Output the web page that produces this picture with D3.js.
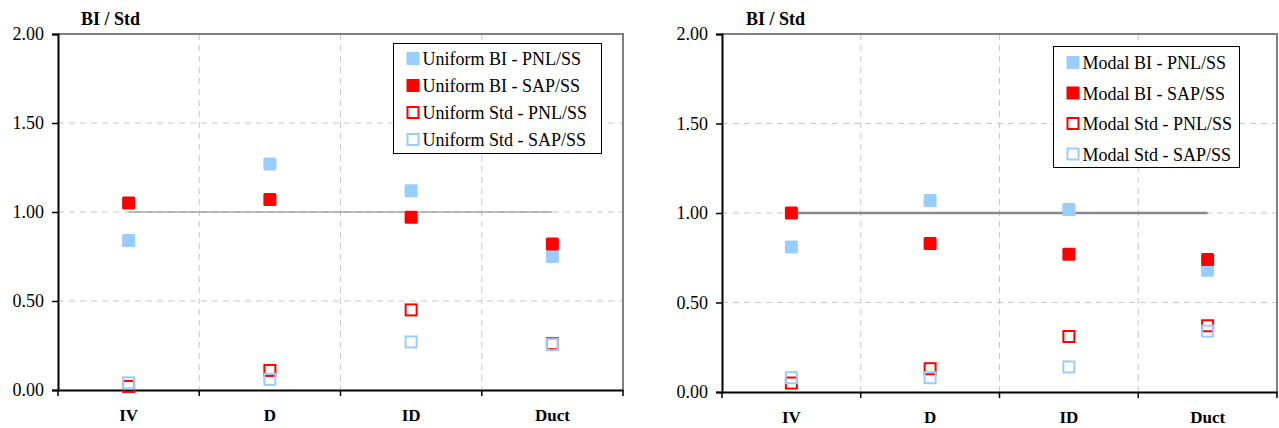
<!DOCTYPE html>
<html><head><meta charset="utf-8">
<script src="https://cdn.jsdelivr.net/npm/d3@7"></script>
<style>body{margin:0;background:#fff}svg{display:block}
svg text{font-family:"Liberation Serif","Times New Roman",Times,Tinos,"DejaVu Serif","Noto Serif",serif !important;}</style>
</head><body>
<svg id="c" width="1279" height="428"></svg>
<script>
const categories = ["IV", "D", "ID", "Duct"];
const yTicks = [0, 0.5, 1, 1.5, 2];
const uniformBiPnl  = [0.84, 1.27, 1.12, 0.75];
const uniformBiSap  = [1.05, 1.07, 0.97, 0.82];
const uniformStdPnl = [0.02, 0.11, 0.45, 0.26];
const uniformStdSap = [0.04, 0.06, 0.27, 0.255];
const modalBiPnl  = [0.81, 1.07, 1.02, 0.68];
const modalBiSap  = [1.00, 0.83, 0.77, 0.74];
const modalStdPnl = [0.05, 0.13, 0.31, 0.37];
const modalStdSap = [0.08, 0.08, 0.14, 0.34];
const refValue = 1.0;

const BLUE = "#99CCFF", RED = "#FF0000";
const svg = d3.select("#c");

function panel(cfg) {
  const g = svg.append("g");
  const x = d3.scaleBand().domain(categories).range([cfg.left, cfg.right]);
  const y = d3.scaleLinear().domain([0, 2]).range([cfg.bottom, cfg.top]);

  g.selectAll(".hg").data(yTicks.filter(t => t > 0 && t < 2)).join("line")
    .attr("x1", cfg.left).attr("x2", cfg.right)
    .attr("y1", d => y(d)).attr("y2", d => y(d))
    .attr("stroke", "#c8c8c8").attr("stroke-dasharray", "6,5");
  const bounds = categories.slice(1).map(c => x(c));
  g.selectAll(".vg").data(bounds).join("line")
    .attr("x1", d => d).attr("x2", d => d)
    .attr("y1", cfg.top).attr("y2", cfg.bottom)
    .attr("stroke", "#c8c8c8").attr("stroke-dasharray", "6,5");

  g.append("path")
    .attr("d", `M${cfg.left},${cfg.top}H${cfg.right}V${cfg.bottom}`)
    .attr("fill", "none").attr("stroke", "#808080").attr("stroke-width", 2);

  g.append("line")
    .attr("x1", x(categories[0]) + x.bandwidth() / 2)
    .attr("x2", x(categories[categories.length - 1]) + x.bandwidth() / 2)
    .attr("y1", y(refValue)).attr("y2", y(refValue))
    .attr("stroke", cfg.refColor).attr("stroke-width", cfg.refWidth);

  const ya = g.append("g").attr("transform", `translate(${cfg.left},0)`)
    .call(d3.axisLeft(y).tickValues(yTicks).tickFormat(d3.format(".2f")).tickSize(6).tickPadding(8));
  ya.attr("font-size", 18);
  ya.select(".domain").attr("stroke", "#000").attr("stroke-width", 2);
  ya.selectAll(".tick line").attr("stroke", "#000").attr("stroke-width", 1.5);
  ya.selectAll("text").attr("font-size", 18).style("font-size", "18px").attr("fill", "#000");

  const xa = g.append("g").attr("transform", `translate(0,${cfg.bottom})`)
    .call(d3.axisBottom(x).tickSize(0).tickPadding(19));
  xa.attr("font-size", 17);
  xa.select(".domain").attr("stroke", "#000").attr("stroke-width", 2);
  xa.selectAll("text").attr("font-size", 17).style("font-size", "17px")
    .attr("font-weight", "bold").attr("fill", "#000");
  const edges = [cfg.left, ...bounds, cfg.right];
  g.selectAll(".xt").data(edges).join("line")
    .attr("x1", d => d).attr("x2", d => d)
    .attr("y1", cfg.bottom).attr("y2", cfg.bottom + 6)
    .attr("stroke", "#000").attr("stroke-width", 1.5);

  g.append("text").attr("x", cfg.titleX).attr("y", cfg.top - 9)
    .attr("font-size", 18).attr("font-weight", "bold")
    .text("BI / Std");

  const S = 13;
  cfg.series.forEach(s => {
    g.selectAll(null).data(s.values).join("rect")
      .attr("x", (d, i) => x(categories[i]) + x.bandwidth() / 2 - S / 2 + (s.filled ? 0 : 1))
      .attr("y", d => y(d) - S / 2 + (s.filled ? 0 : 1))
      .attr("width", s.filled ? S : S - 2).attr("height", s.filled ? S : S - 2)
      .attr("rx", s.filled ? 1.5 : 0)
      .attr("fill", s.filled ? s.color : "none")
      .attr("stroke", s.filled ? "none" : s.color)
      .attr("stroke-width", s.filled ? 0 : 2);
  });

  const L = cfg.legend;
  g.append("rect").attr("x", L.x).attr("y", L.y).attr("width", L.w).attr("height", L.h)
    .attr("fill", "#fff").attr("stroke", "#000").attr("stroke-width", 1);
  cfg.series.forEach((s, i) => {
    const cy = L.y + L.first + i * L.step;
    g.append("rect")
      .attr("x", L.x + 13 + (s.filled ? 0 : 1)).attr("y", cy - 6.5 + (s.filled ? 0 : 1))
      .attr("width", s.filled ? 13 : 11).attr("height", s.filled ? 13 : 11)
      .attr("fill", s.filled ? s.color : "#fff")
      .attr("stroke", s.filled ? "none" : s.color).attr("stroke-width", 2);
    g.append("text").attr("x", L.x + 29).attr("y", cy + 6.5)
      .attr("font-size", L.fs).attr("fill", "#000")
      .text(s.name);
  });
}

panel({
  left: 58, right: 623, top: 34, bottom: 390, refWidth: 1, refColor: "#808080", titleX: 81,
  legend: {x: 393.5, y: 43.5, w: 208, h: 110, first: 15, step: 27, fs: 18},
  series: [
    {name: "Uniform BI - PNL/SS", values: uniformBiPnl, color: BLUE, filled: true},
    {name: "Uniform BI - SAP/SS", values: uniformBiSap, color: RED, filled: true},
    {name: "Uniform Std - PNL/SS", values: uniformStdPnl, color: RED, filled: false},
    {name: "Uniform Std - SAP/SS", values: uniformStdSap, color: BLUE, filled: false}
  ]
});
panel({
  left: 722, right: 1277, top: 34, bottom: 392, refWidth: 2.5, refColor: "#8a8a8a", titleX: 746,
  legend: {x: 1053.5, y: 46.5, w: 186, h: 121, first: 16, step: 30.5, fs: 18},
  series: [
    {name: "Modal BI - PNL/SS", values: modalBiPnl, color: BLUE, filled: true},
    {name: "Modal BI - SAP/SS", values: modalBiSap, color: RED, filled: true},
    {name: "Modal Std - PNL/SS", values: modalStdPnl, color: RED, filled: false},
    {name: "Modal Std - SAP/SS", values: modalStdSap, color: BLUE, filled: false}
  ]
});
</script>
</body></html>
